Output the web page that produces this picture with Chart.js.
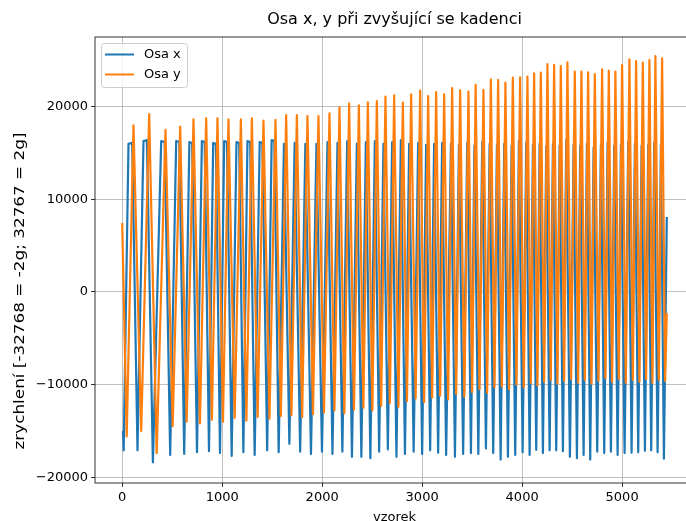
<!DOCTYPE html>
<html><head><meta charset="utf-8">
<script src="https://cdn.jsdelivr.net/npm/chart.js@4.4.0/dist/chart.umd.min.js"></script>
<style>
html,body{margin:0;padding:0;overflow:hidden;background:#fff;width:686px;height:521px}
#wrap{position:absolute;left:0;top:0;width:700px;height:530px}
</style>
</head><body><div id="wrap"><canvas id="c" width="700" height="530"></canvas></div>
<script>
const chartTitle = 'Osa x, y při zvyšující se kadenci';
const xLabel = 'vzorek';
const yLabel = 'zrychlení [-32768 = -2g; 32767 = 2g]';
const seriesNames = ['Osa x', 'Osa y'];
const xTicks = [0, 1000, 2000, 3000, 4000, 5000];
const yTicks = [-20000, -10000, 0, 10000, 20000];

// Osa x (blue): sample index of each turning point and its value
const osaXIdx = [0,8,15,63,100,153,213,247,307,390,425,480,540,572,620,672,700,748,797,825,868,910,937,978,1020,1048,1095,1143,1170,1212,1253,1280,1325,1375,1402,1450,1495,1522,1565,1618,1672,1725,1780,1832,1888,1943,1998,2053,2103,2153,2202,2250,2298,2347,2392,2437,2482,2527,2570,2613,2657,2700,2743,2787,2828,2870,2915,2960,3000,3040,3080,3120,3160,3200,3240,3288,3328,3368,3410,3451,3488,3523,3562,3601,3638,3675,3711,3748,3785,3821,3858,3895,3931,3968,4005,4041,4075,4108,4141,4175,4208,4241,4275,4308,4341,4375,4408,4441,4478,4515,4548,4581,4615,4648,4681,4715,4751,4788,4821,4855,4888,4921,4955,4988,5025,5061,5095,5128,5161,5195,5228,5261,5291,5321,5355,5388,5418,5447];
const osaXVal = [-15300,-15100,-17100,16000,16100,-17100,16300,16400,-18400,16300,16200,-17600,16300,16200,-17500,16200,16100,-17300,16300,16200,-17200,16100,16000,-17400,16300,16200,-17700,16200,16100,-17300,16300,16200,-17600,16200,16100,-17100,16400,16300,-17300,16000,-16400,16100,-17250,16000,-17500,16000,-17250,16200,-17500,16100,-17250,16300,-17800,16000,-17800,16200,-17950,16300,-17250,16000,-17000,16200,-17800,16400,-17500,16000,-17250,16100,-17500,15900,-17100,16000,-17350,16100,-17600,16000,-17800,15900,-17500,16100,-17400,15800,-17500,16200,-16900,16000,-17400,15900,-18100,16000,-17800,15800,-17600,16300,-17300,16100,-17600,15900,-17050,16000,-17400,15700,-17100,16000,-17100,15800,-17200,16400,-17800,15900,-17950,15800,-17600,16000,-18100,15600,-17250,15900,-17400,16100,-17250,15800,-17600,15900,-17400,16200,-17350,16000,-17300,15800,-17150,15900,-17100,16100,-17300,15900,-18000,8100];

// Osa y (orange): sample index of each turning point and its value
const osaYIdx = [0,45,113,190,270,345,433,505,580,645,713,778,840,897,953,1008,1063,1125,1187,1242,1297,1355,1413,1473,1533,1587,1640,1693,1747,1800,1853,1908,1963,2018,2073,2123,2173,2222,2270,2318,2367,2412,2457,2502,2547,2590,2633,2677,2720,2763,2807,2848,2890,2935,2980,3020,3060,3100,3140,3180,3220,3260,3300,3340,3380,3422,3463,3500,3535,3574,3613,3650,3687,3723,3760,3797,3833,3870,3907,3943,3980,4017,4053,4087,4120,4153,4187,4220,4253,4287,4320,4353,4387,4420,4453,4490,4527,4560,4593,4627,4660,4693,4727,4763,4800,4833,4867,4900,4933,4967,5000,5037,5073,5107,5140,5173,5207,5240,5273,5303,5333,5367,5400,5430,5447];
const osaYVal = [7450,-15600,18000,-15000,19200,-17400,17500,-14500,17850,-14000,18650,-14200,18750,-13800,18750,-14000,18650,-13600,18650,-13900,18750,-13500,18500,-13700,18580,-13400,19100,-13300,19100,-13500,19000,-13200,19000,-13000,19300,-12800,19950,-13100,20380,-12700,20160,-12500,20480,-12800,20630,-12300,21100,-12000,21240,-12400,20450,-11800,21350,-11500,21740,-11900,21170,-11400,21600,-11200,21350,-11600,22030,-11000,21780,-11300,21640,-10800,22380,-10500,21820,-10900,22970,-10300,22900,-10200,22610,-10500,23150,-10000,23180,-10300,23260,-9800,23620,-10100,23690,-9700,24620,-9500,24520,-9900,24410,-9600,24800,-9400,23800,-9800,23800,-9500,23720,-9900,23540,-9600,24050,-9300,23900,-9700,23800,-9400,24520,-9800,25130,-9500,24950,-9700,24770,-9400,25060,-9800,25490,-9500,25240,-9600,-2300];

const toPts = (xs, ys) => xs.map((x, i) => ({x: x, y: ys[i]}));
const fmt = v => (v < 0 ? '\u2212' + Math.abs(v) : String(v));
const FONT = "'DejaVu Sans', sans-serif";
const colors = ['#1f77b4', '#ff7f0e'];

const deco = {
  id: 'deco',
  afterDraw(chart) {
    const {ctx, chartArea: a} = chart;
    ctx.save();
    ctx.strokeStyle = '#000'; ctx.lineWidth = 0.8;
    ctx.strokeRect(a.left, a.top, a.right - a.left, a.bottom - a.top);
    ctx.fillStyle = '#000';
    ctx.textAlign = 'center'; ctx.textBaseline = 'middle';
    ctx.font = '16px ' + FONT;
    ctx.fillText(chartTitle, (a.left + a.right) / 2, 20);
    ctx.font = '13px ' + FONT;
    ctx.fillText(xLabel, (a.left + a.right) / 2, 518);
    ctx.save();
    ctx.font = '14.5px ' + FONT;
    ctx.translate(20, 291); ctx.rotate(-Math.PI / 2);
    const w = ctx.measureText(yLabel).width;
    ctx.scale(317 / w, 1);
    ctx.fillText(yLabel, 0, 0);
    ctx.restore();
    // legend
    const bx = 101.5, by = 43.5, bw = 86, bh = 44, r = 3;
    ctx.beginPath();
    ctx.moveTo(bx + r, by); ctx.lineTo(bx + bw - r, by); ctx.quadraticCurveTo(bx + bw, by, bx + bw, by + r);
    ctx.lineTo(bx + bw, by + bh - r); ctx.quadraticCurveTo(bx + bw, by + bh, bx + bw - r, by + bh);
    ctx.lineTo(bx + r, by + bh); ctx.quadraticCurveTo(bx, by + bh, bx, by + bh - r);
    ctx.lineTo(bx, by + r); ctx.quadraticCurveTo(bx, by, bx + r, by);
    ctx.closePath();
    ctx.fillStyle = 'rgba(255,255,255,0.8)'; ctx.fill();
    ctx.strokeStyle = '#cccccc'; ctx.lineWidth = 1; ctx.stroke();
    ctx.textAlign = 'left';
    seriesNames.forEach((n, i) => {
      const y = 54.5 + i * 20;
      ctx.strokeStyle = colors[i]; ctx.lineWidth = 2;
      ctx.beginPath(); ctx.moveTo(105, y); ctx.lineTo(134, y); ctx.stroke();
      ctx.fillStyle = '#000';
      ctx.fillText(n, 144, y);
    });
    ctx.restore();
  }
};

new Chart(document.getElementById('c'), {
  type: 'line',
  data: {
    datasets: [
      {label: seriesNames[0], data: toPts(osaXIdx, osaXVal), borderColor: colors[0], borderWidth: 2.2, pointRadius: 0, tension: 0, fill: false, order: 1, borderJoinStyle: 'round'},
      {label: seriesNames[1], data: toPts(osaYIdx, osaYVal), borderColor: colors[1], borderWidth: 2.2, pointRadius: 0, tension: 0, fill: false, order: 0, borderJoinStyle: 'round'}
    ]
  },
  options: {
    responsive: false, animation: false, devicePixelRatio: 1,
    layout: {padding: {top: 37, right: 6, left: 0, bottom: 0}},
    plugins: {legend: {display: false}, title: {display: false}, tooltip: {enabled: false}},
    scales: {
      x: {
        type: 'linear', min: -272, max: 5719,
        afterFit(s) { s.height = 47; },
        afterBuildTicks(s) { s.ticks = xTicks.map(v => ({value: v})); },
        ticks: {color: '#000', font: {family: FONT, size: 13}, padding: 3, maxRotation: 0, autoSkip: false, callback: fmt},
        grid: {color: '#b0b0b0', lineWidth: 0.8, tickColor: '#000', tickLength: 4},
        border: {display: false}
      },
      y: {
        type: 'linear', min: -20630, max: 27540,
        afterFit(s) { s.width = 95; },
        afterBuildTicks(s) { s.ticks = yTicks.map(v => ({value: v})); },
        ticks: {color: '#000', font: {family: FONT, size: 13}, padding: 3, autoSkip: false, callback: fmt},
        grid: {color: '#b0b0b0', lineWidth: 0.8, tickColor: '#000', tickLength: 4},
        border: {display: false}
      }
    }
  },
  plugins: [deco]
});
</script>
</body></html>
